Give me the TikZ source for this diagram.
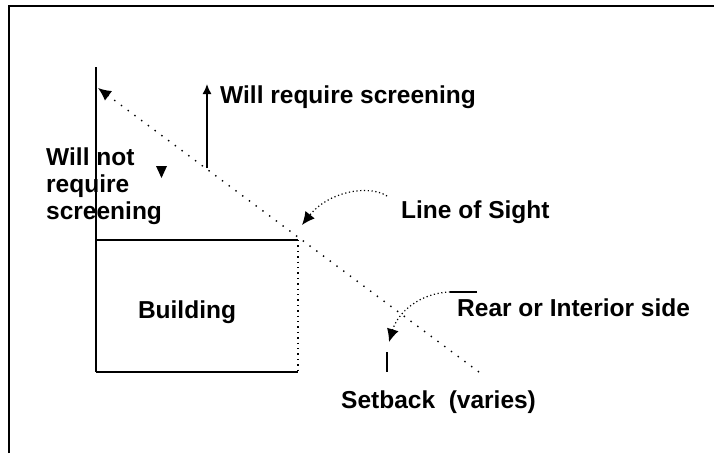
\documentclass[tikz,border=0pt]{standalone}
\usepackage{fontspec}
\setmainfont{Liberation Sans}
\usepackage{tikz}
\usetikzlibrary{arrows.meta}

\begin{document}
\begin{tikzpicture}[x=1pt, y=-1pt,
        every node/.style={font=\fontsize{24.5}{27}\selectfont\bfseries, inner sep=0pt},
        sightline/.style={line width=1.4pt, dash pattern=on 1.4pt off 7pt},
        pointer/.style={line width=1.2pt, dash pattern=on 1.2pt off 2.6pt},
        bigtip/.style={-{Latex[length=13pt, width=12pt]}}]
        \useasboundingbox (0,0) rectangle (714,453);

        % Draw the frame
        \draw[line width=2pt] (9,453) -- (9,6) -- (714,6);

        % Draw the lot line and the building
        \coordinate (lotTop) at (96,67);
        \coordinate (bldNW) at (96,240);
        \coordinate (bldNE) at (298,240);
        \coordinate (bldSW) at (96,372);
        \coordinate (bldSE) at (298,372);
        \draw[line width=1.6pt] (lotTop) -- (bldSW);
        \draw[line width=2.2pt] (bldNW) -- (bldNE);
        \draw[line width=2.2pt] (bldSW) -- (bldSE);
        \draw[line width=1.4pt, dash pattern=on 1.4pt off 4pt] (bldNE) -- (bldSE);
        \node (building) at (187,312) {Building};

        % Line of sight across the building corner
        \coordinate (sightEnd) at (479,372);
        \coordinate (sightTip) at (98,88);
        \draw[sightline, bigtip] (sightEnd) -- (sightTip);

        % Labels above and below the line of sight
        \node[anchor=west] (require) at (220,97) {Will require screening};
        \coordinate (requireFoot) at (207,168);
        \coordinate (requireHead) at (207,84);
        \draw[line width=1.5pt, -{Latex[length=10pt, width=9pt]}] (requireFoot) -- (requireHead);

        \node[anchor=west, align=left] (norequire) at (46,186) {Will not\\require\\screening};
        \fill (156,166) -- (167,166) -- (161.5,178) -- cycle;

        % Line of sight label with its pointer
        \node[anchor=west] (sight) at (401,212) {Line of Sight};
        \coordinate (sightFrom) at (387,196);
        \coordinate (sightTo) at (302,225);
        \draw[pointer, bigtip] (sightFrom) .. controls (368,184) and (328,192) .. (sightTo);

        % Rear or interior side label with its pointer
        \node[anchor=west] (rear) at (457,308) {Rear or Interior side};
        \coordinate (rearBar) at (477,292);
        \coordinate (rearFrom) at (450,292);
        \coordinate (rearTo) at (389,342);
        \draw[line width=1.6pt] (rearBar) -- (rearFrom);
        \draw[pointer, bigtip] (rearFrom) .. controls (420,293) and (398,312) .. (rearTo);

        % Setback mark and label
        \coordinate (setTop) at (387,352);
        \coordinate (setBot) at (387,372);
        \draw[line width=1.4pt] (setTop) -- (setBot);
        \node[anchor=west] (setback) at (341,402) {Setback\ \ (varies)};
    \end{tikzpicture}
\end{document}
